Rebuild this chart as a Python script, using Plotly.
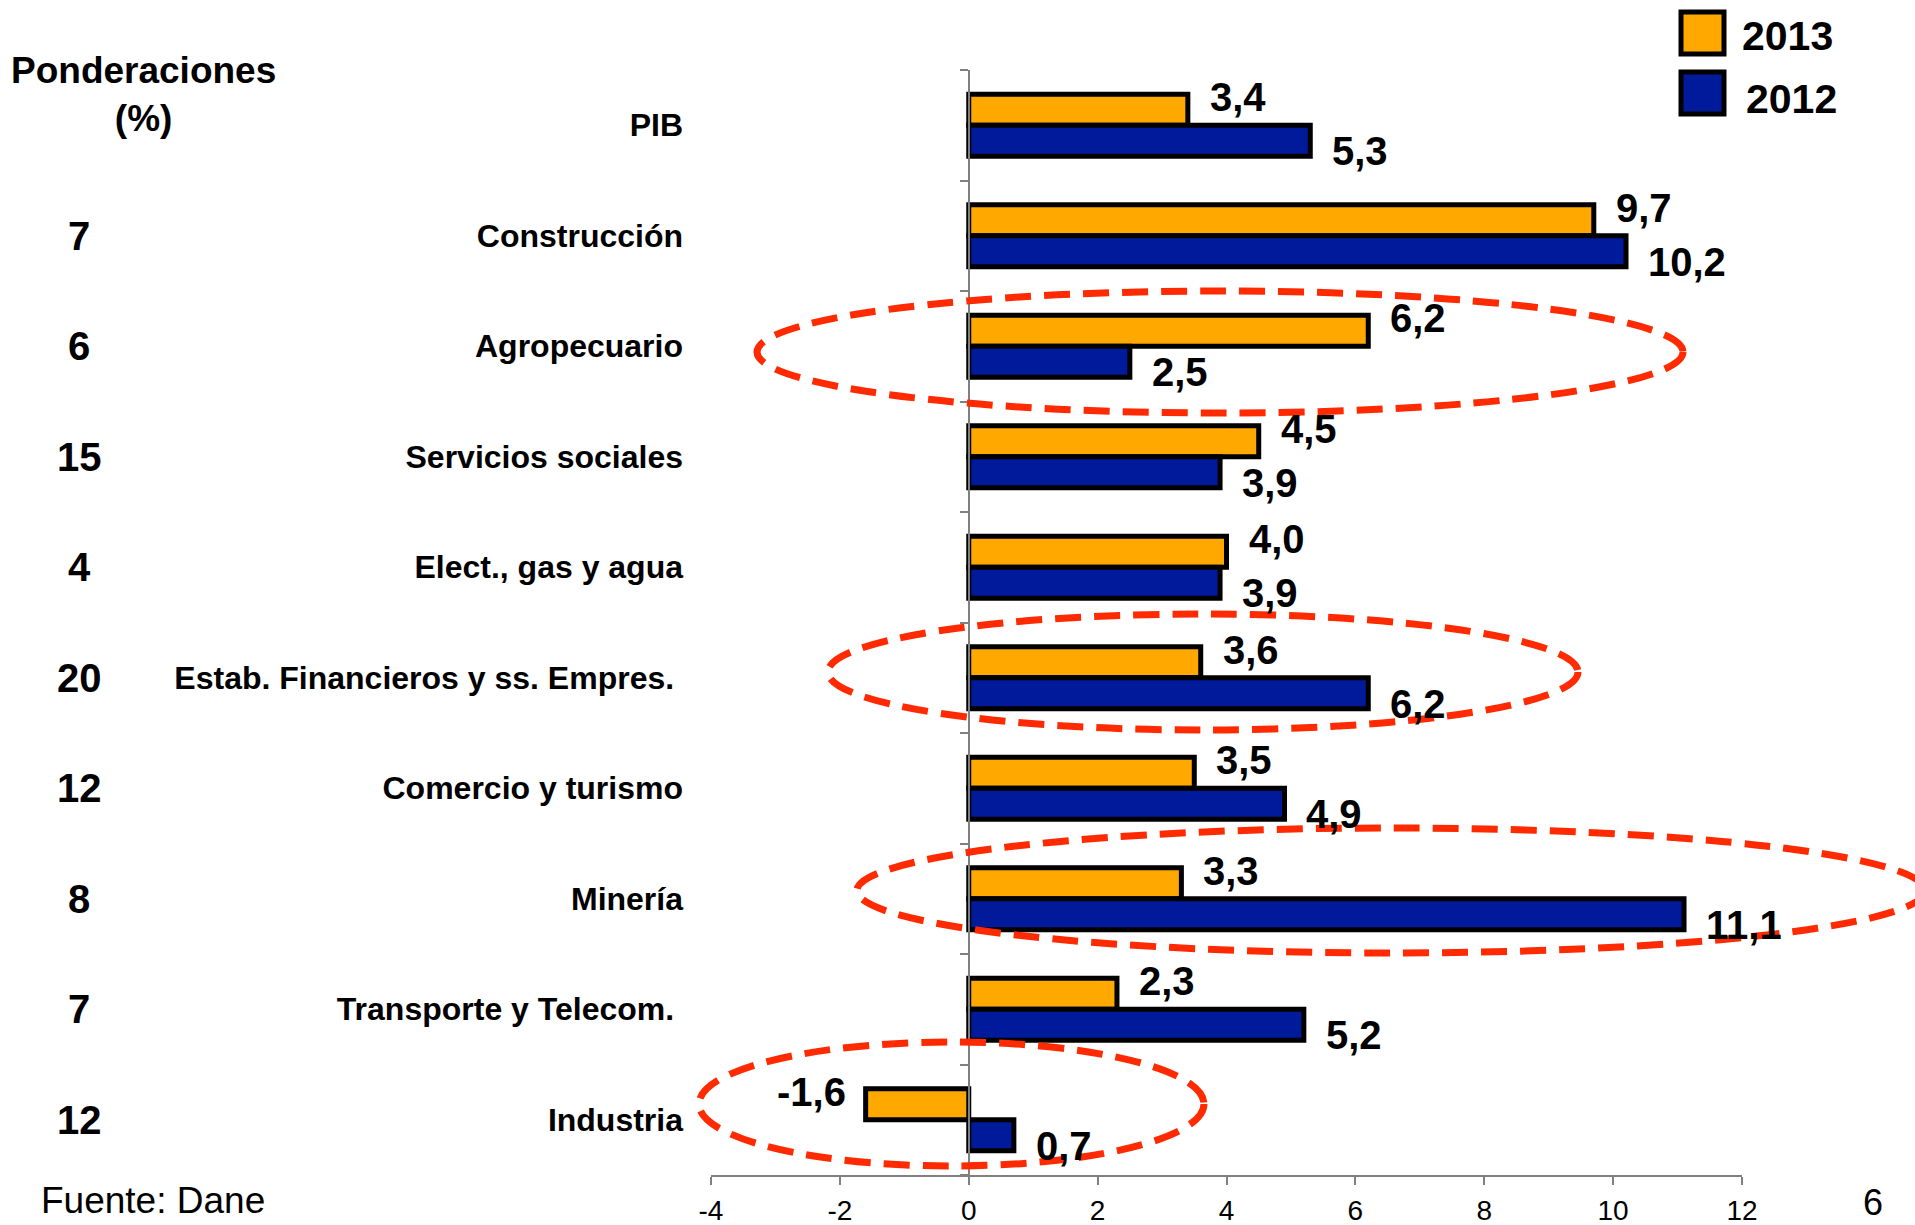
import plotly.graph_objects as go

# ---------------- data ----------------
categories = ["PIB", "Construcción", "Agropecuario", "Servicios sociales",
              "Elect., gas y agua", "Estab. Financieros y ss. Empres.",
              "Comercio y turismo", "Minería", "Transporte y Telecom.", "Industria"]
category_ticktext = ["PIB", "Construcción", "Agropecuario", "Servicios sociales",
                     "Elect., gas y agua", "Estab. Financieros y ss. Empres.\u00a0",
                     "Comercio y turismo", "Minería", "Transporte y Telecom.\u00a0", "Industria"]
values_2013 = [3.4, 9.7, 6.2, 4.5, 4.0, 3.6, 3.5, 3.3, 2.3, -1.6]
values_2012 = [5.3, 10.2, 2.5, 3.9, 3.9, 6.2, 4.9, 11.1, 5.2, 0.7]
ponderaciones = [None, 7, 6, 15, 4, 20, 12, 8, 7, 12]
x_tickvals = [-4, -2, 0, 2, 4, 6, 8, 10, 12]
x_ticktext = ["-4", "-2", "0", "2", "4", "6", "8", "10", "12"]
highlighted = ["Agropecuario", "Estab. Financieros y ss. Empres.", "Minería", "Industria"]

# ---------------- style ----------------
FONT = "Liberation Sans, Arial, sans-serif"
ORANGE = "#FFA800"
BLUE = "#001A9C"
RED = "#FF2A00"
AXIS_GRAY = "#808080"

W, H = 1915, 1225
ML, MR, MT, MB = 711, 173, 70, 50
PW, PH = W - ML - MR, H - MT - MB


def px_x(px):
    return (px - ML) / PW


def px_y(py):
    return 1 - (py - MT) / PH


def fmt(v):
    return f"{v:.1f}".replace(".", ",")


fig = go.Figure()
fig.add_trace(go.Bar(y=categories, x=values_2013, orientation="h", name="2013",
                     marker=dict(color=ORANGE, line=dict(color="black", width=5)),
                     showlegend=False, hoverinfo="x+y"))
fig.add_trace(go.Bar(y=categories, x=values_2012, orientation="h", name="2012",
                     marker=dict(color=BLUE, line=dict(color="black", width=5)),
                     showlegend=False, hoverinfo="x+y"))
# carrier for the zero-axis (y2) with category-boundary ticks
fig.add_trace(go.Scatter(x=[0], y=[0], yaxis="y2", mode="none",
                         showlegend=False, hoverinfo="skip"))

annotations = []
# data labels
for cat, v in zip(categories, values_2013):
    annotations.append(dict(x=v, y=cat, xref="x", yref="y", text=fmt(v), showarrow=False,
                            xanchor="left" if v >= 0 else "right",
                            xshift=20 if v >= 0 else -18, yshift=28,
                            font=dict(family=FONT, size=40, color="black", weight="bold")))
for cat, v in zip(categories, values_2012):
    annotations.append(dict(x=v, y=cat, xref="x", yref="y", text=fmt(v), showarrow=False,
                            xanchor="left" if v >= 0 else "right",
                            xshift=20 if v >= 0 else -18, yshift=-26,
                            font=dict(family=FONT, size=40, color="black", weight="bold")))
# weights column
for cat, p in zip(categories, ponderaciones):
    if p is None:
        continue
    annotations.append(dict(x=px_x(79), y=cat, xref="paper", yref="y", text=str(p),
                            showarrow=False, xanchor="center", yanchor="middle",
                            font=dict(family=FONT, size=40, color="black", weight="bold")))
annotations.append(dict(x=px_x(143), y=px_y(94), xref="paper", yref="paper",
                        text="Ponderaciones<br>(%)", showarrow=False, align="center",
                        xanchor="center", yanchor="middle",
                        font=dict(family=FONT, size=37, color="black", weight="bold")))
annotations.append(dict(x=px_x(39), y=px_y(1200), xref="paper", yref="paper",
                        text="Fuente: Dane", showarrow=False, xanchor="left", yanchor="middle",
                        font=dict(family=FONT, size=37, color="black")))
annotations.append(dict(x=px_x(1873), y=px_y(1202), xref="paper", yref="paper",
                        text="6", showarrow=False, xanchor="center", yanchor="middle",
                        font=dict(family=FONT, size=36, color="black")))
# custom legend texts
annotations.append(dict(x=px_x(1740), y=px_y(36), xref="paper", yref="paper", text="2013",
                        showarrow=False, xanchor="left", yanchor="middle",
                        font=dict(family=FONT, size=41, color="black", weight="bold")))
annotations.append(dict(x=px_x(1744), y=px_y(99), xref="paper", yref="paper", text="2012",
                        showarrow=False, xanchor="left", yanchor="middle",
                        font=dict(family=FONT, size=41, color="black", weight="bold")))

shapes = []
# legend boxes
shapes.append(dict(type="rect", xref="paper", yref="paper",
                   x0=px_x(1681), x1=px_x(1724), y0=px_y(54), y1=px_y(12),
                   fillcolor=ORANGE, line=dict(color="black", width=5)))
shapes.append(dict(type="rect", xref="paper", yref="paper",
                   x0=px_x(1681), x1=px_x(1724), y0=px_y(114), y1=px_y(72),
                   fillcolor=BLUE, line=dict(color="black", width=5)))
# highlight ellipses (pixel boxes in page coordinates)
ellipse_boxes = {
    "Agropecuario": (757, 1683, 291, 413),
    "Estab. Financieros y ss. Empres.": (828, 1578, 614, 730),
    "Minería": (857, 1925, 828, 953),
    "Industria": (699, 1204, 1042, 1166),
}
for name in highlighted:
    x0, x1, y0, y1 = ellipse_boxes[name]
    shapes.append(dict(type="circle", xref="paper", yref="paper",
                       x0=px_x(x0), x1=px_x(x1), y0=px_y(y1), y1=px_y(y0),
                       line=dict(color=RED, width=7, dash="26px,13px"), layer="above"))

n = len(categories)
fig.update_layout(
    width=W, height=H,
    margin=dict(l=ML, r=MR, t=MT, b=MB, pad=0),
    plot_bgcolor="white", paper_bgcolor="white",
    barmode="group", bargap=0.44, bargroupgap=0,
    font=dict(family=FONT, color="black"),
    xaxis=dict(range=[-4, 12], tickvals=x_tickvals, ticktext=x_ticktext,
               showline=True, linecolor=AXIS_GRAY, linewidth=1.5,
               ticks="outside", ticklen=8, tickcolor=AXIS_GRAY, tickwidth=1.5,
               showgrid=False, zeroline=False, ticklabelstandoff=2, automargin=False,
               tickfont=dict(family=FONT, size=28, color="black")),
    yaxis=dict(type="category", autorange="reversed", showline=False, ticks="",
               tickvals=categories, ticktext=category_ticktext,
               showgrid=False, zeroline=False, ticklabelstandoff=27, automargin=False,
               tickfont=dict(family=FONT, size=32, color="black", weight="bold")),
    yaxis2=dict(overlaying="y", anchor="free", position=px_x(ML + 4 * PW / 16), side="left",
                range=[n - 0.5, -0.5], tickvals=[i - 0.5 for i in range(n + 1)],
                showticklabels=False, showline=True, linecolor=AXIS_GRAY, linewidth=1.5,
                ticks="outside", ticklen=8, tickcolor=AXIS_GRAY, tickwidth=1.5,
                showgrid=False, zeroline=False, automargin=False),
    annotations=annotations,
    shapes=shapes,
)

fig.write_html("out.html", config={"displayModeBar": False},
               post_script="document.body.style.margin='0';")
